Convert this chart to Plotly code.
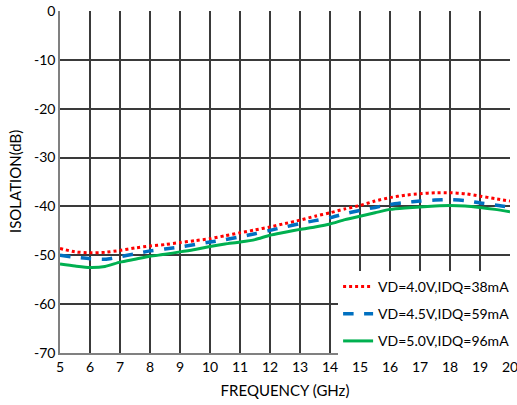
import plotly.graph_objects as go

# Frequency sweep (GHz)
freq = [5, 5.5, 6, 6.5, 7, 7.5, 8, 8.5, 9, 9.5, 10, 10.5, 11, 11.5, 12, 12.5,
        13, 13.5, 14, 14.5, 15, 15.5, 16, 16.5, 17, 17.5, 18, 18.5, 19, 19.5, 20]

# Isolation (dB) for each bias condition
iso_40v = [-48.6, -49.3, -49.5, -49.4, -49.0, -48.5, -48.1, -47.8, -47.4, -47.0,
           -46.6, -46.0, -45.4, -44.8, -44.2, -43.5, -42.8, -42.0, -41.3, -40.5,
           -39.8, -38.9, -38.2, -37.7, -37.4, -37.2, -37.2, -37.4, -37.9, -38.4, -38.9]
iso_45v = [-50.0, -50.4, -50.7, -50.8, -50.3, -49.7, -49.1, -48.7, -48.3, -47.8,
           -47.3, -46.8, -46.2, -45.6, -44.9, -44.2, -43.5, -42.9, -42.3, -41.5,
           -40.8, -40.2, -39.6, -39.2, -38.9, -38.7, -38.6, -38.8, -39.3, -39.7, -40.2]
iso_50v = [-51.8, -52.2, -52.5, -52.3, -51.4, -50.8, -50.2, -49.8, -49.3, -48.8,
           -48.2, -47.7, -47.3, -46.8, -45.9, -45.3, -44.7, -44.2, -43.6, -42.7,
           -42.0, -41.3, -40.6, -40.3, -40.1, -39.9, -39.8, -39.9, -40.2, -40.6, -41.1]

# Y-axis ticks (plain hyphen as the minus sign)
y_tick_vals = [0, -10, -20, -30, -40, -50, -60, -70]
y_tick_labels = ["0", "-10", "-20", "-30", "-40", "-50", "-60", "-70"]

series = [
    ("VD=4.0V,IDQ=38mA", iso_40v, "#FF0000", "dot", 3),
    ("VD=4.5V,IDQ=59mA", iso_45v, "#0070C0", "dash", 3.5),
    ("VD=5.0V,IDQ=96mA", iso_50v, "#00B050", "solid", 3),
]

fig = go.Figure()
for i, (name, vals, color, dash, width) in enumerate(series):
    fig.add_trace(go.Scatter(
        x=freq, y=vals, mode="lines", name=name,
        legendgroup=f"g{i}",
        line=dict(color=color, dash=dash, width=width, shape="spline", smoothing=0.6),
    ))

font = "Lato, 'Open Sans', sans-serif"
grid = "#3a3a3a"

fig.update_layout(
    width=517, height=405,
    margin=dict(l=60, r=7, t=11, b=52, autoexpand=False),
    paper_bgcolor="white", plot_bgcolor="white",
    font=dict(family=font, size=14, color="#000000"),
    showlegend=True,
    legend=dict(
        x=0.618, y=0.24, xanchor="left", yanchor="top",
        bgcolor="white", borderwidth=0,
        font=dict(family=font, size=14, color="#000000"),
        tracegroupgap=6, itemwidth=30,
    ),
    xaxis=dict(
        range=[5, 20], dtick=1, tick0=5, automargin=False,
        showgrid=True, gridcolor=grid, gridwidth=1.5,
        showline=True, linecolor="#808080", linewidth=1.5, mirror=False,
        ticks="", ticklen=0, ticklabeloverflow="allow",
        tickfont=dict(size=14),
        title=dict(text="FREQUENCY (GHz)", font=dict(family=font, size=15), standoff=12),
        zeroline=False,
    ),
    yaxis=dict(
        range=[-70, 0], automargin=False,
        tickmode="array", tickvals=y_tick_vals, ticktext=y_tick_labels,
        showgrid=True, gridcolor=grid, gridwidth=1.5,
        showline=True, linecolor="#808080", linewidth=1.5,
        ticks="", ticksuffix="   ",
        tickfont=dict(size=14),
        zeroline=False,
    ),
    annotations=[dict(
        text="ISOLATION(dB)", textangle=-90,
        xref="paper", yref="paper", x=0, y=0.5,
        xanchor="center", yanchor="middle", xshift=-45,
        showarrow=False, font=dict(family=font, size=15, color="#000000"),
    )],
)

fig.write_html("out.html")
